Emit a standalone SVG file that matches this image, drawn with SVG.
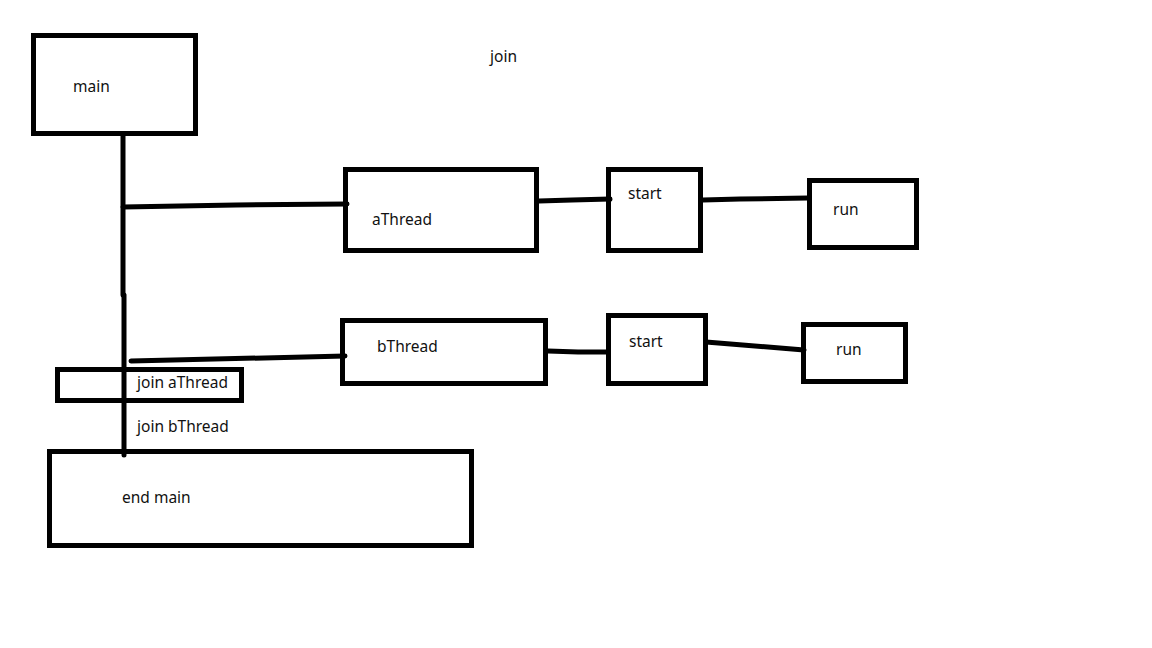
<svg xmlns="http://www.w3.org/2000/svg" width="1152" height="648" viewBox="0 0 1152 648">
<style>
.box{fill:none;stroke:#000;stroke-width:5}
.ln{fill:none;stroke:#000;stroke-width:5;stroke-linecap:round;stroke-linejoin:round}
text{font-family:"Noto Sans","Open Sans",sans-serif;font-size:15.5px;fill:#111}
</style>
<rect width="1152" height="648" fill="#fff"/>
<text x="490" y="62">join</text>
<g id="connectors">
<polyline class="ln" points="123,134 123,295"/>
<polyline class="ln" points="124,295 124,455"/>
<polyline class="ln" points="123,207 236,205 347,204"/>
<polyline class="ln" points="539,201 572,200 610,199"/>
<polyline class="ln" points="703,200 740,199 808,198"/>
<polyline class="ln" points="131,361 345,356"/>
<polyline class="ln" points="548,351 578,352 608,352"/>
<polyline class="ln" points="706,342 804,350"/>
</g>
<g id="main"><rect class="box" x="33.5" y="35.5" width="162" height="98"/><text x="73" y="92">main</text></g>
<g id="aThread"><rect class="box" x="345.5" y="169.5" width="191" height="81"/><text x="372" y="225">aThread</text></g>
<g id="aStart"><rect class="box" x="608.5" y="169.5" width="92" height="81"/><text x="628" y="199">start</text></g>
<g id="aRun"><rect class="box" x="809.5" y="180.5" width="107" height="67"/><text x="833" y="215">run</text></g>
<g id="bThread"><rect class="box" x="342.5" y="320.5" width="203" height="63"/><text x="377" y="352">bThread</text></g>
<g id="bStart"><rect class="box" x="608.5" y="315.5" width="97" height="68"/><text x="629" y="347">start</text></g>
<g id="bRun"><rect class="box" x="803.5" y="324.5" width="102" height="57"/><text x="836" y="355">run</text></g>
<g id="joinA"><rect class="box" x="57.5" y="369.5" width="184" height="31"/><text x="137" y="388">join aThread</text></g>
<g id="joinB"><text x="137" y="432">join bThread</text></g>
<g id="endMain"><rect class="box" x="49.5" y="451.5" width="422" height="94"/><text x="122" y="503">end main</text></g>
</svg>
